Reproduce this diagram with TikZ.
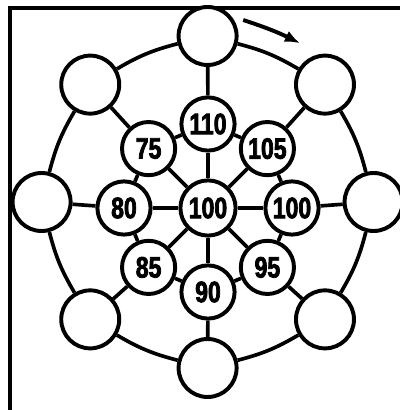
\documentclass[tikz,border=0pt]{standalone}
\usepackage{fontspec}
\newfontfamily\discfont{Liberation Sans}[FakeStretch=0.78, BoldFeatures={FakeBold=2.5}]
\usetikzlibrary{arrows.meta,positioning}
\tikzstyle{outerdisc}=[circle, draw, line width=2.8pt, fill=white, minimum size=1.45cm, inner sep=0pt]
\tikzstyle{innerdisc}=[circle, draw, line width=2.8pt, fill=white, minimum size=1.33cm, inner sep=0pt, font=\discfont\bfseries\fontsize{21}{21}\selectfont]
\tikzstyle{ringlink}=[line width=2.6pt]

\begin{document}
\begin{tikzpicture}
    \useasboundingbox (0,0) rectangle (10,10.25);

    % Rahmen
    \draw[line width=2.6pt] (0.2,10.05) -- (10,10.05);
    \draw[line width=2.6pt] (0.25,10.05) -- (0.25,0);

    % Mitte
    \node[innerdisc, minimum size=1.38cm] (m) at (5.2,5.05) {100};

    % Innerer Ring
    \foreach \a/\v [count=\i] in {90/110, 45/105, 0/100, -45/95, -90/90, -135/85, 180/80, 135/75} {
      \node[innerdisc] (i\i) at ([shift={(\a:2.1)}]m) {\v};
    }

    % Aeusserer Ring
    \coordinate (mo) at (5.19,5.2);
    \foreach \a [count=\i] in {90, 45, 0, -45, -90, -135, 180, 135} {
      \node[outerdisc] (o\i) at ([shift={(\a:4.15)}]mo) {};
    }

    % Verbindungen
    \foreach \i in {1,...,8} {
      \pgfmathtruncatemacro\j{mod(\i,8)+1}
      \draw[ringlink] (m) -- (i\i);
      \draw[ringlink] (i\i) -- (o\i);
      \draw[ringlink] (i\i) -- (i\j);
      \draw[ringlink] (o\i) to[bend left=8] (o\j);
    }

    % Drehsinn
    \coordinate (p1) at (6.08,9.75);
    \coordinate (p2) at (7.5,9.17);
    \draw[line width=2.8pt, -{Latex[length=0.38cm, width=0.3cm]}] (p1) to[bend left=4] (p2);
\end{tikzpicture}
\end{document}
